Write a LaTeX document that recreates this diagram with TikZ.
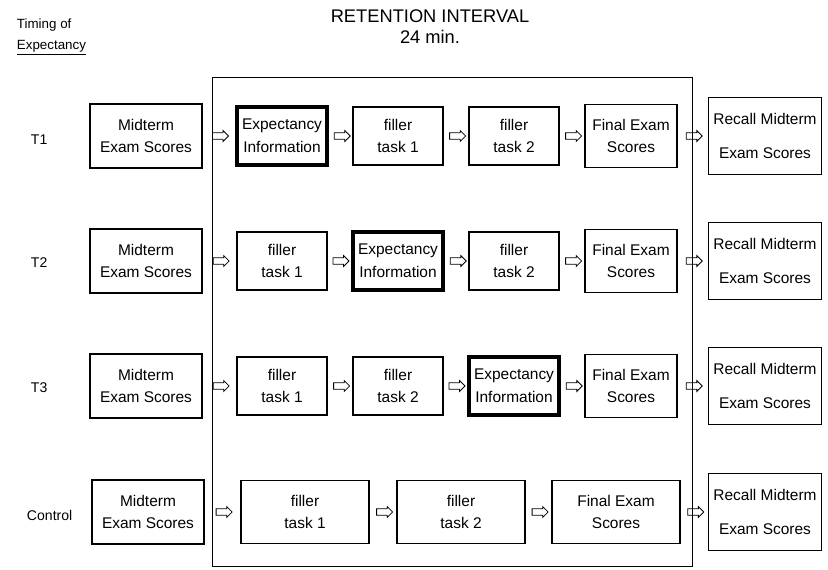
\documentclass[tikz,border=0pt]{standalone}
\usepackage{fontspec}
\setmainfont{Liberation Sans}
\usetikzlibrary{shapes.arrows, calc}

\tikzset{
  stage/.style={draw, line width=0.8pt, align=center, inner sep=2pt,
    font=\fontsize{11}{16}\selectfont,
    minimum width=2.25cm, minimum height=1.45cm},
  midterm/.style={stage, minimum width=2.8cm, minimum height=1.6cm},
  expect/.style={stage, line width=2.6pt},
  final/.style={stage, minimum width=2.3cm, minimum height=1.575cm},
  recall/.style={stage, minimum width=2.83cm, minimum height=1.93cm},
  wide/.style={stage, minimum width=3.2cm, minimum height=1.575cm},
  rowlabel/.style={anchor=west, font=\fontsize{10}{12}\selectfont},
  flowarrow/.style={single arrow, draw, line width=0.6pt, inner sep=0pt,
    inner ysep=0.07cm, minimum height=0.4cm,
    single arrow head extend=0.055cm}
}

\begin{document}
\begin{tikzpicture}[x=0.025cm, y=-0.025cm]
  \useasboundingbox (0,0) rectangle (828,570);

  % headings
  \node[anchor=west, font=\fontsize{9.5}{11}\selectfont] (timing) at (12,25) {Timing of};
  \node[anchor=west, font=\fontsize{9.5}{11}\selectfont] (expect) at (12,48) {\underline{Expectancy}};
  \node[font=\fontsize{13}{15}\selectfont] (title) at (430,16) {RETENTION INTERVAL};
  \node[font=\fontsize{13}{15}\selectfont] (span) at (430,37) {24 min.};

  % retention interval frame
  \draw[line width=0.7pt] (212,77) rectangle (692,566);

  % T1
  \node[rowlabel] (t1) at (26,140) {T1};
  \node[midterm] (mid1) at (146,136) {Midterm\\Exam Scores};
  \node[expect] (exp1) at (282,136) {Expectancy\\Information};
  \node[stage] (fa1) at (398,136) {filler\\task 1};
  \node[stage] (fb1) at (514,136) {filler\\task 2};
  \node[final] (fin1) at (631,136) {Final Exam\\Scores};
  \node[recall] (rec1) at (765,136) {Recall Midterm\\[8pt]Exam Scores};

  % T2
  \node[rowlabel] (t2) at (26,263) {T2};
  \node[midterm] (mid2) at (146,261) {Midterm\\Exam Scores};
  \node[stage] (fa2) at (282,261) {filler\\task 1};
  \node[expect] (exp2) at (398,261) {Expectancy\\Information};
  \node[stage] (fb2) at (514,261) {filler\\task 2};
  \node[final] (fin2) at (631,261) {Final Exam\\Scores};
  \node[recall] (rec2) at (765,261) {Recall Midterm\\[8pt]Exam Scores};

  % T3
  \node[rowlabel] (t3) at (26,388) {T3};
  \node[midterm] (mid3) at (146,386) {Midterm\\Exam Scores};
  \node[stage] (fa3) at (282,386) {filler\\task 1};
  \node[stage] (fb3) at (398,386) {filler\\task 2};
  \node[expect] (exp3) at (514,386) {Expectancy\\Information};
  \node[final] (fin3) at (631,386) {Final Exam\\Scores};
  \node[recall] (rec3) at (765,386) {Recall Midterm\\[8pt]Exam Scores};

  % Control
  \node[rowlabel] (ctl) at (22,515) {Control};
  \node[midterm] (mid4) at (148,512) {Midterm\\Exam Scores};
  \node[wide] (fa4) at (305,512) {filler\\task 1};
  \node[wide] (fb4) at (461,512) {filler\\task 2};
  \node[wide] (fin4) at (616,512) {Final Exam\\Scores};
  \node[recall] (rec4) at (765,512) {Recall Midterm\\[8pt]Exam Scores};

  % block arrows between stages
  \foreach \a/\b in {mid1/exp1, exp1/fa1, fa1/fb1, fb1/fin1, fin1/rec1,
                     mid2/fa2, fa2/exp2, exp2/fb2, fb2/fin2, fin2/rec2,
                     mid3/fa3, fa3/fb3, fb3/exp3, exp3/fin3, fin3/rec3,
                     mid4/fa4, fa4/fb4, fb4/fin4, fin4/rec4}
    \node[flowarrow] at ($(\a.east)!0.5!(\b.west)$) {};
\end{tikzpicture}
\end{document}
